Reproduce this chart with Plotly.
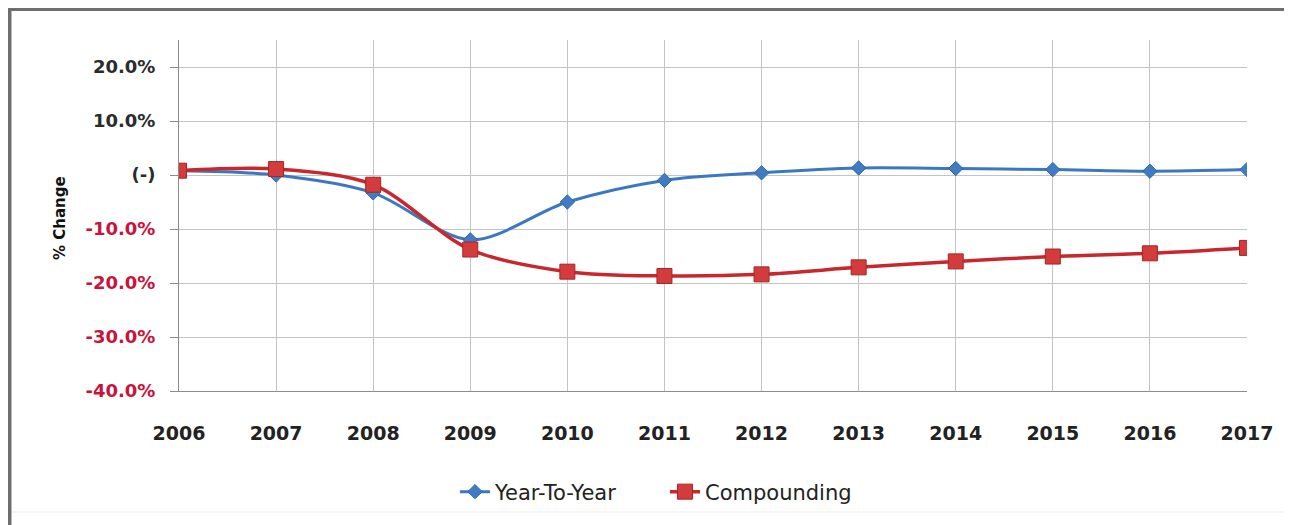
import plotly.graph_objects as go

years = [2006, 2007, 2008, 2009, 2010, 2011, 2012, 2013, 2014, 2015, 2016, 2017]
year_to_year = [0.8, 0.0, -3.3, -12.0, -5.0, -1.0, 0.4, 1.3, 1.2, 1.0, 0.7, 1.0]
compounding = [0.8, 1.1, -1.8, -13.8, -17.9, -18.7, -18.4, -17.1, -16.0, -15.1, -14.5, -13.5]

ytick_vals = [-40, -30, -20, -10, 0, 10, 20]
ytick_text = ["-40.0%", "-30.0%", "-20.0%", "-10.0%", "(-)", "10.0%", "20.0%"]

OFF = 8  # page body margin
W, H = 1292 - OFF, 525 - OFF
L, R, T, B = 179 - OFF, 1247 - OFF, 40 - OFF, 391 - OFF
pw, ph = R - L, B - T


def px_x(x):
    return (x - OFF - L) / pw


def px_y(y):
    return (B - (y - OFF)) / ph


def colored(t, v):
    c = "#C8143C" if v < 0 else "#2b2b2b"
    return f'<span style="color:{c}">{t}</span>'


fig = go.Figure()
fig.add_trace(go.Scatter(
    x=years, y=year_to_year, name="Year-To-Year", mode="lines+markers",
    line=dict(color="#3B78C0", width=3, shape="spline", smoothing=0.9),
    marker=dict(symbol="diamond", size=11, color="#3F7CC4",
                line=dict(color="#2F64A8", width=1)),
))
fig.add_trace(go.Scatter(
    x=years, y=compounding, name="Compounding", mode="lines+markers",
    line=dict(color="#C8282D", width=3.5, shape="spline", smoothing=0.9),
    marker=dict(symbol="square", size=15, color="#D23C3C",
                line=dict(color="#A82426", width=1)),
))

fig.update_layout(
    width=W, height=H,
    margin=dict(l=L, r=W - R, t=T, b=H - B, pad=0),
    paper_bgcolor="white", plot_bgcolor="white",
    font=dict(family="DejaVu Sans", color="#222222"),
    showlegend=True,
    legend=dict(orientation="h", x=px_x(665), xanchor="center",
                y=px_y(492), yanchor="middle",
                font=dict(size=21, family="DejaVu Sans", color="#222222"),
                bgcolor="rgba(0,0,0,0)",
                itemsizing="trace", tracegroupgap=0, entrywidth=165),
)

fig.update_xaxes(
    range=[2006, 2017], tickmode="array", tickvals=years,
    ticktext=[str(y) for y in years],
    showgrid=True, gridcolor="#C4C4C4", gridwidth=1,
    showline=True, linecolor="#8C8C8C", linewidth=1,
    ticks="", ticklabelstandoff=25,
    tickfont=dict(family="DejaVu Sans", size=19, color="#222222", weight="bold"),
    zeroline=False,
)
fig.update_yaxes(
    range=[-40, 25], tickmode="array", tickvals=ytick_vals,
    ticktext=[colored(t, v) for t, v in zip(ytick_text, ytick_vals)],
    showgrid=True, gridcolor="#C4C4C4", gridwidth=1,
    showline=True, linecolor="#8C8C8C", linewidth=1,
    ticks="outside", ticklen=8, tickcolor="#8C8C8C",
    ticklabelstandoff=11,
    tickfont=dict(family="DejaVu Sans", size=18, color="#2b2b2b", weight="bold"),
    zeroline=False,
)

fig.add_annotation(
    text="<b>% Change</b>", textangle=-90,
    xref="paper", yref="paper", x=px_x(60), y=px_y(218),
    xanchor="center", yanchor="middle", showarrow=False,
    font=dict(family="DejaVu Sans", size=15, color="#111111"),
)

# outer chart frame
fig.add_shape(type="line", xref="paper", yref="paper",
              x0=px_x(9.5), x1=px_x(9.5), y0=px_y(9.5), y1=px_y(540),
              line=dict(color="#6E6E6E", width=4))
fig.add_shape(type="line", xref="paper", yref="paper",
              x0=px_x(8), x1=px_x(1310), y0=px_y(9.5), y1=px_y(9.5),
              line=dict(color="#6E6E6E", width=3))
fig.add_shape(type="line", xref="paper", yref="paper",
              x0=px_x(12), x1=px_x(1310), y0=px_y(512), y1=px_y(512),
              line=dict(color="#EDEDED", width=1))

fig.write_html("out.html")
